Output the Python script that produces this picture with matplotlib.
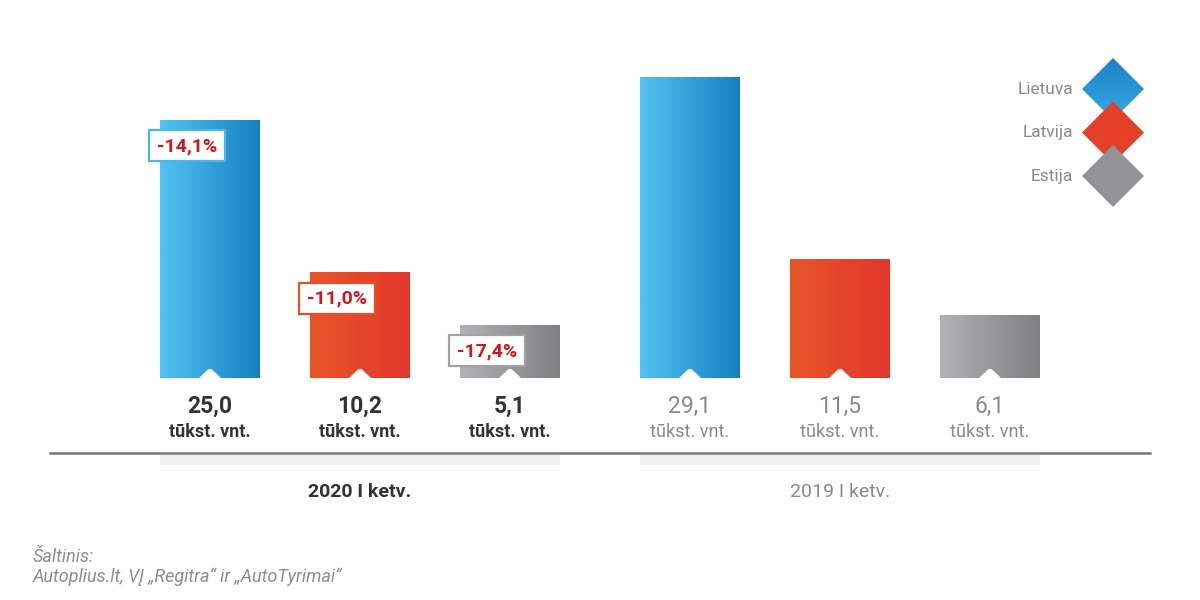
import numpy as np
import matplotlib.pyplot as plt
from matplotlib.colors import LinearSegmentedColormap
from matplotlib.patches import Rectangle, Polygon

plt.rcParams['font.family'] = ['Roboto', 'DejaVu Sans']

# data
countries = ['Lietuva', 'Latvija', 'Estija']
periods = ['2020 I ketv.', '2019 I ketv.']
vals_2020 = [25.0, 10.2, 5.1]
vals_2019 = [29.1, 11.5, 6.1]
changes = ['-14,1%', '-11,0%', '-17,4%']
unit = 'tūkst. vnt.'
source = 'Šaltinis:\nAutoplius.lt, VĮ „Regitra“ ir „AutoTyrimai“'

# colours: (left, right) of the gradient
grads = [('#52c2f0', '#1780c2'), ('#e9562b', '#e2362a'), ('#b2b2b6', '#7f7f84')]
edge_cols = ['#4cb6e6', '#e4502c', '#a2a2a6']
legend_cols = [('#1a82c6', '#3aaae0'), ('#e4402a', '#e4402a'), ('#939398', '#939398')]

SCALE = 10.32          # pixels per thousand units
BASE = 378             # baseline pixel (from top)


def py(p):
    # pixel row (from top) -> data units
    return (BASE - p) / SCALE


fig = plt.figure(figsize=(12, 6), dpi=100)
ax = fig.add_axes([0, 0, 1, 1])
ax.set_xlim(0, 1200)
ax.set_ylim(py(600), py(0))
ax.axis('off')

grad = np.linspace(0, 1, 64).reshape(1, -1)
group_left = [160, 640]
for g, vals in enumerate([vals_2020, vals_2019]):
    for i, v in enumerate(vals):
        x0 = group_left[g] + i * 150
        x1 = x0 + 100
        xc = x0 + 50
        cmap = LinearSegmentedColormap.from_list('c%d' % i, grads[i])
        ax.imshow(grad, extent=[x0, x1, 0, v], aspect='auto', cmap=cmap, zorder=2)
        # small notch at the bottom
        ax.add_patch(Polygon([(xc - 11, 0), (xc - 1.5, py(369)), (xc + 1.5, py(369)), (xc + 11, 0)],
                             closed=True, fc='white', ec='none', zorder=3))
        bold = g == 0
        col = '#333333' if bold else '#8a8a8a'
        ax.text(xc, py(406), f'{v:.1f}'.replace('.', ','), ha='center', va='center',
                fontsize=16.5, fontweight='bold' if bold else 'normal', color=col)
        ax.text(xc, py(432), unit, ha='center', va='center', fontsize=13,
                fontweight='bold' if bold else 'normal', color=col)
        if g == 0:
            top_px = BASE - v * SCALE
            bx = x0 - 11
            by = top_px + 10
            ax.add_patch(Rectangle((bx, py(by + 31)), 76, 31 / SCALE, fc='white',
                                   ec=edge_cols[i], lw=1.6, zorder=4))
            ax.text(bx + 38, py(by + 16), changes[i], ha='center', va='center',
                    fontsize=14, fontweight='bold', color='#d7141a', zorder=5)
    ax.add_patch(Rectangle((group_left[g], py(465)), 400, 10 / SCALE, fc='#f0f0f0',
                           ec='none', zorder=1))
    ax.text(group_left[g] + 200, py(492), periods[g], ha='center', va='center',
            fontsize=14, fontweight='bold' if g == 0 else 'normal',
            color='#333333' if g == 0 else '#8a8a8a')

ax.plot([50, 1150], [py(453), py(453)], color='#777777', lw=1.8, zorder=2)

# legend diamonds
for i, name in enumerate(countries):
    cy = 89 + i * 43.5
    cx = 1113
    r = 31
    cmap = LinearSegmentedColormap.from_list('l%d' % i, legend_cols[i])
    im = ax.imshow(np.linspace(0, 1, 64).reshape(-1, 1), extent=[cx - r, cx + r, py(cy + r), py(cy - r)],
                   aspect='auto', cmap=cmap, origin='upper', zorder=6 + i)
    dia = Polygon([(cx, py(cy - r)), (cx + r, py(cy)), (cx, py(cy + r)), (cx - r, py(cy))],
                  closed=True, transform=ax.transData)
    im.set_clip_path(dia)
    ax.text(1073, py(cy), name, ha='right', va='center', fontsize=12.5, color='#8a8a8a')

ax.text(33, py(567), source, ha='left', va='center', fontsize=13, style='italic',
        color='#8e8e8e', linespacing=1.15)

ax.set_xlim(0, 1200)
ax.set_ylim(py(600), py(0))
fig.savefig('out.png', dpi=100, facecolor='white')
